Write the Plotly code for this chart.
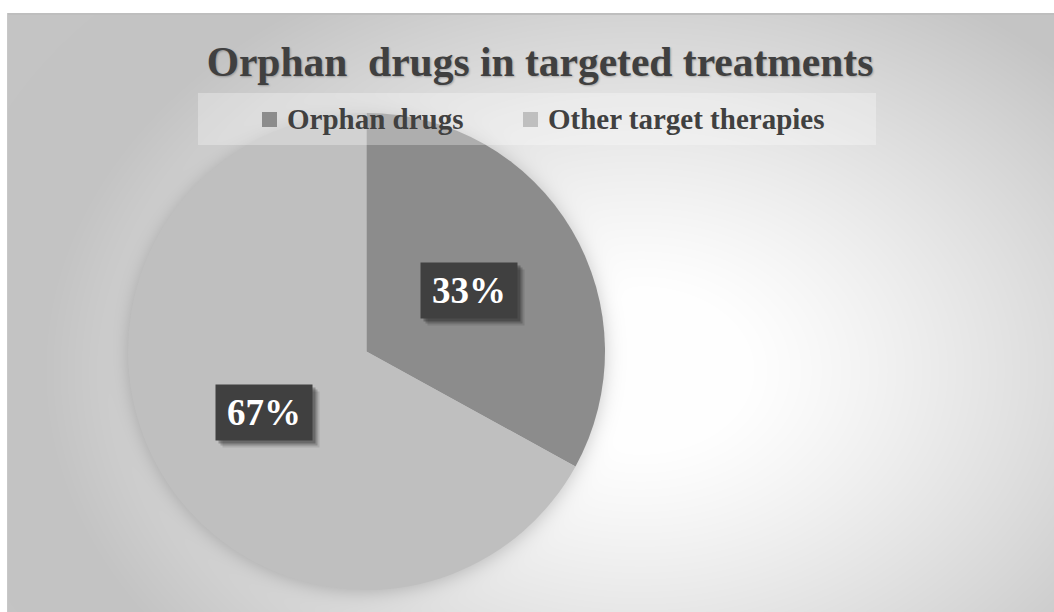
import base64
import struct
import zlib

import numpy as np
import plotly.graph_objects as go

# ---- data -------------------------------------------------------------
categories = ["Orphan drugs", "Other target therapies"]
shares = [33, 67]
slice_colors = ["#8c8c8c", "#bfbfbf"]
title_text = "Orphan\u00a0 drugs in targeted treatments"

# ---- geometry / styling ----------------------------------------------
W, H = 1054, 612
FRAME = (7, 13)                 # top-left corner of the chart frame (px)
PIE_CX, PIE_CY, PIE_R = 366.5, 351.5, 238.5
SERIF = "Liberation Serif"
DARK = "#404040"
LEGEND_BOX = (198, 93, 876, 145)     # x0, y0, x1, y1 in px
LEGEND_SWATCH_X = [262, 523]         # left edge of each legend swatch
LEGEND_MID_Y = 119.5
SWATCH = 15


def px_x(x):
    return x / W


def px_y(y):
    return 1 - y / H


def png_data_uri(gray):
    """Encode a 2-D uint8 array as a grayscale PNG data URI."""
    h, w = gray.shape
    raw = b"".join(b"\x00" + gray[i].tobytes() for i in range(h))

    def chunk(tag, data):
        body = tag + data
        return struct.pack(">I", len(data)) + body + struct.pack(">I", zlib.crc32(body) & 0xFFFFFFFF)

    png = (b"\x89PNG\r\n\x1a\n"
           + chunk(b"IHDR", struct.pack(">IIBBBBB", w, h, 8, 0, 0, 0, 0))
           + chunk(b"IDAT", zlib.compress(raw, 9))
           + chunk(b"IEND", b""))
    return "data:image/png;base64," + base64.b64encode(png).decode()


# ---- background: soft radial sheen plus a blurred drop shadow under the pie
yy, xx = np.mgrid[0:H, 0:W].astype(float)
gx, gy = 640.0, 370.0
r = np.sqrt(((xx - gx) / 540.0) ** 2 + ((yy - gy) / 400.0) ** 2)
t = np.clip((r - 0.18) / 0.92, 0, 1)
bg = 255 - (255 - 196) * t ** 1.2

d = np.sqrt((xx - PIE_CX) ** 2 + (yy - PIE_CY - 2) ** 2)
shadow = 0.5 * (1 - np.tanh((d - PIE_R) / 11.0))
bg = bg * (1 - 0.2 * shadow)

img = np.clip(bg, 0, 255).astype(np.uint8)
img[:FRAME[1], :] = 255
img[:, :FRAME[0]] = 255
img[FRAME[1]:FRAME[1] + 2, FRAME[0]:] = 190
img[FRAME[1]:, FRAME[0]:FRAME[0] + 1] = 200

# ---- figure -----------------------------------------------------------
fig = go.Figure()
fig.add_trace(go.Pie(
    labels=categories,
    values=shares,
    sort=False,
    direction="clockwise",
    rotation=0,
    marker=dict(colors=slice_colors, line=dict(width=0)),
    textinfo="none",
    hoverinfo="label+percent",
    showlegend=False,
    domain=dict(x=[px_x(PIE_CX - PIE_R), px_x(PIE_CX + PIE_R)],
                y=[px_y(PIE_CY + PIE_R), px_y(PIE_CY - PIE_R)]),
))

# percentage call-outs placed halfway along each slice's mid angle
total = sum(shares)
annotations = []
start = 0.0
for v in shares:
    frac = v / total
    mid = (start + frac / 2) * 2 * np.pi
    start += frac
    lx = PIE_CX + 0.5 * PIE_R * np.sin(mid)
    ly = PIE_CY - 0.5 * PIE_R * np.cos(mid)
    common = dict(xref="paper", yref="paper", x=px_x(lx), y=px_y(ly),
                  xanchor="center", yanchor="middle", showarrow=False,
                  width=96, height=55, borderpad=0)
    for off, alpha in [(7, 0.10), (5, 0.18), (3, 0.25)]:
        annotations.append(dict(common, text=" ", bgcolor=f"rgba(0,0,0,{alpha})",
                                xshift=off, yshift=-off))
    annotations.append(dict(common, text=f"{round(frac * 100)}%", bgcolor=DARK,
                            font=dict(family=SERIF, size=37, color="white", weight="bold")))

# legend band: translucent panel, colour swatches and category names
shapes = [dict(type="rect", xref="paper", yref="paper",
               x0=px_x(LEGEND_BOX[0]), x1=px_x(LEGEND_BOX[2]),
               y0=px_y(LEGEND_BOX[3]), y1=px_y(LEGEND_BOX[1]),
               fillcolor="rgba(255,255,255,0.3)", line=dict(width=0), layer="above")]
for name, color, sx in zip(categories, slice_colors, LEGEND_SWATCH_X):
    shapes.append(dict(type="rect", xref="paper", yref="paper",
                       x0=px_x(sx), x1=px_x(sx + SWATCH),
                       y0=px_y(LEGEND_MID_Y + SWATCH / 2), y1=px_y(LEGEND_MID_Y - SWATCH / 2),
                       fillcolor=color, line=dict(width=0), layer="above"))
    annotations.append(dict(xref="paper", yref="paper", x=px_x(sx + SWATCH + 9),
                            y=px_y(LEGEND_MID_Y), xanchor="left", yanchor="middle",
                            showarrow=False, borderpad=0, text=name,
                            font=dict(family=SERIF, size=29, color=DARK, weight="bold")))

fig.update_layout(
    width=W, height=H,
    margin=dict(l=0, r=0, t=0, b=0),
    paper_bgcolor="white",
    images=[dict(source=png_data_uri(img), xref="paper", yref="paper",
                 x=0, y=1, sizex=1, sizey=1, xanchor="left", yanchor="top",
                 sizing="stretch", layer="below")],
    shapes=shapes,
    title=dict(text=title_text, x=px_x(540), xanchor="center",
               y=px_y(61), yanchor="middle",
               font=dict(family=SERIF, size=41.5, color=DARK, weight="bold",
                         shadow="1px 1px 2px rgba(0,0,0,0.25)")),
    showlegend=False,
    annotations=annotations,
)

fig.write_html("out.html")
